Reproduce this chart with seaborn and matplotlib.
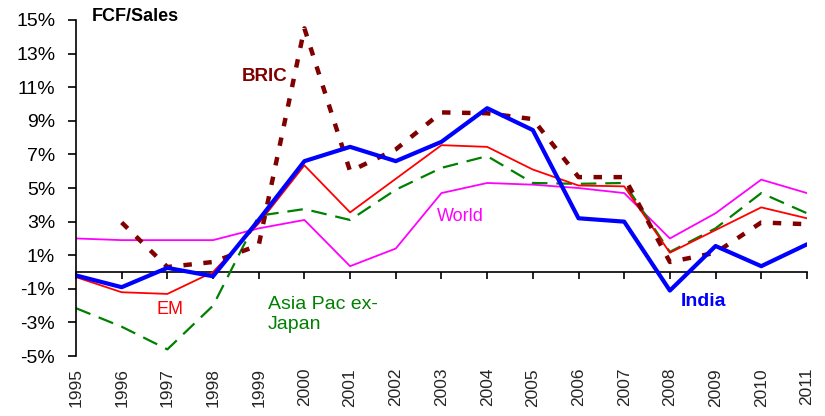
import matplotlib
matplotlib.use("Agg")
import matplotlib.pyplot as plt
import matplotlib.ticker as mticker
import numpy as np
import pandas as pd
import seaborn as sns

# FCF/Sales by region, % of sales
years = list(range(1995, 2012))
india = [-0.2, -0.9, 0.25, -0.25, 3.1, 6.6, 7.45, 6.6, 7.75, 9.75, 8.45, 3.2, 3.0, -1.1, 1.55, 0.35, 1.65]
em = [-0.3, -1.2, -1.3, 0.0, 2.9, 6.35, 3.55, 5.55, 7.55, 7.45, 6.1, 5.15, 5.1, 1.15, 2.5, 3.85, 3.2]
world = [2.0, 1.9, 1.9, 1.9, 2.6, 3.1, 0.35, 1.4, 4.7, 5.3, 5.2, 5.0, 4.7, 2.0, 3.5, 5.5, 4.7]
asia_pac = [-2.15, -3.25, -4.6, -2.0, 3.35, 3.75, 3.1, 4.9, 6.2, 6.9, 5.3, 5.25, 5.3, 1.2, 2.6, 4.7, 3.5]
bric = [np.nan, 2.95, 0.3, 0.6, 1.6, 14.5, 6.0, 7.3, 9.5, 9.45, 9.1, 5.65, 5.65, 0.6, 1.15, 2.95, 2.85]

y_ticks = list(range(-5, 16, 2))

df = pd.DataFrame({"year": years, "India": india, "EM": em, "World": world,
                   "Asia Pac ex-Japan": asia_pac, "BRIC": bric})

sns.set_style("white")
plt.rcParams["font.family"] = ["Liberation Sans", "DejaVu Sans"]

fig = plt.figure(figsize=(8.25, 4.16), dpi=100)
ax = fig.add_axes([0.0921, 0.144, 0.886, 0.808])

sns.lineplot(data=df, x="year", y="World", ax=ax, color="#FF00FF", lw=1.3)
sns.lineplot(data=df, x="year", y="Asia Pac ex-Japan", ax=ax, color="#008000", lw=1.6,
             dashes=False).lines[-1].set_dashes((7, 4))
sns.lineplot(data=df, x="year", y="EM", ax=ax, color="#FF0000", lw=1.3)
bric_line = sns.lineplot(data=df, x="year", y="BRIC", ax=ax, color="#800000", lw=3.2).lines[-1]
bric_line.set_dashes((1.9, 2.6))
bric_line.set_dash_capstyle("butt")
sns.lineplot(data=df, x="year", y="India", ax=ax, color="#0000FF", lw=3.0)

ax.set_xlim(1995, 2011)
ax.set_ylim(-5, 15)
ax.set_xlabel("")
ax.set_ylabel("")

ax.set_yticks(y_ticks)
ax.yaxis.set_major_formatter(mticker.FuncFormatter(lambda v, p: f"{v:.0f}%"))
ax.tick_params(axis="y", left=True, direction="out", length=6, width=1.2,
               labelsize=14, pad=9, colors="black")

ax.set_xticks(years)
ax.set_xticklabels([str(y) for y in years], rotation=90)
ax.tick_params(axis="x", bottom=False, labelsize=12.5, pad=5)

for s in ("top", "right", "bottom"):
    ax.spines[s].set_visible(False)
ax.spines["left"].set_color("black")
ax.spines["left"].set_linewidth(1.2)

# zero line with its own downward tick marks
zero_ax = ax.secondary_xaxis(0.25)
zero_ax.set_xticks(years)
zero_ax.set_xticklabels([])
zero_ax.tick_params(direction="out", length=5, width=1.2, colors="black")
zero_ax.spines["bottom"].set_color("black")
zero_ax.spines["bottom"].set_linewidth(1.2)

ax.text(1995.35, 15.2, "FCF/Sales", fontsize=13, fontweight="bold", va="center", color="black")
ax.text(1998.62, 11.65, "BRIC", fontsize=13.5, fontweight="bold", va="center", color="#800000")
ax.text(2002.9, 3.3, "World", fontsize=13, va="center", color="#FF00FF")
ax.text(1996.77, -2.2, "EM", fontsize=13, va="center", color="#FF0000")
ax.text(1999.2, -1.45, "Asia Pac ex-\nJapan", fontsize=14, va="top", color="#008000",
        linespacing=1.2)
ax.text(2008.24, -1.75, "India", fontsize=14, fontweight="bold", va="center", color="#0000FF")

fig.savefig("out.png", dpi=100, facecolor="white")
